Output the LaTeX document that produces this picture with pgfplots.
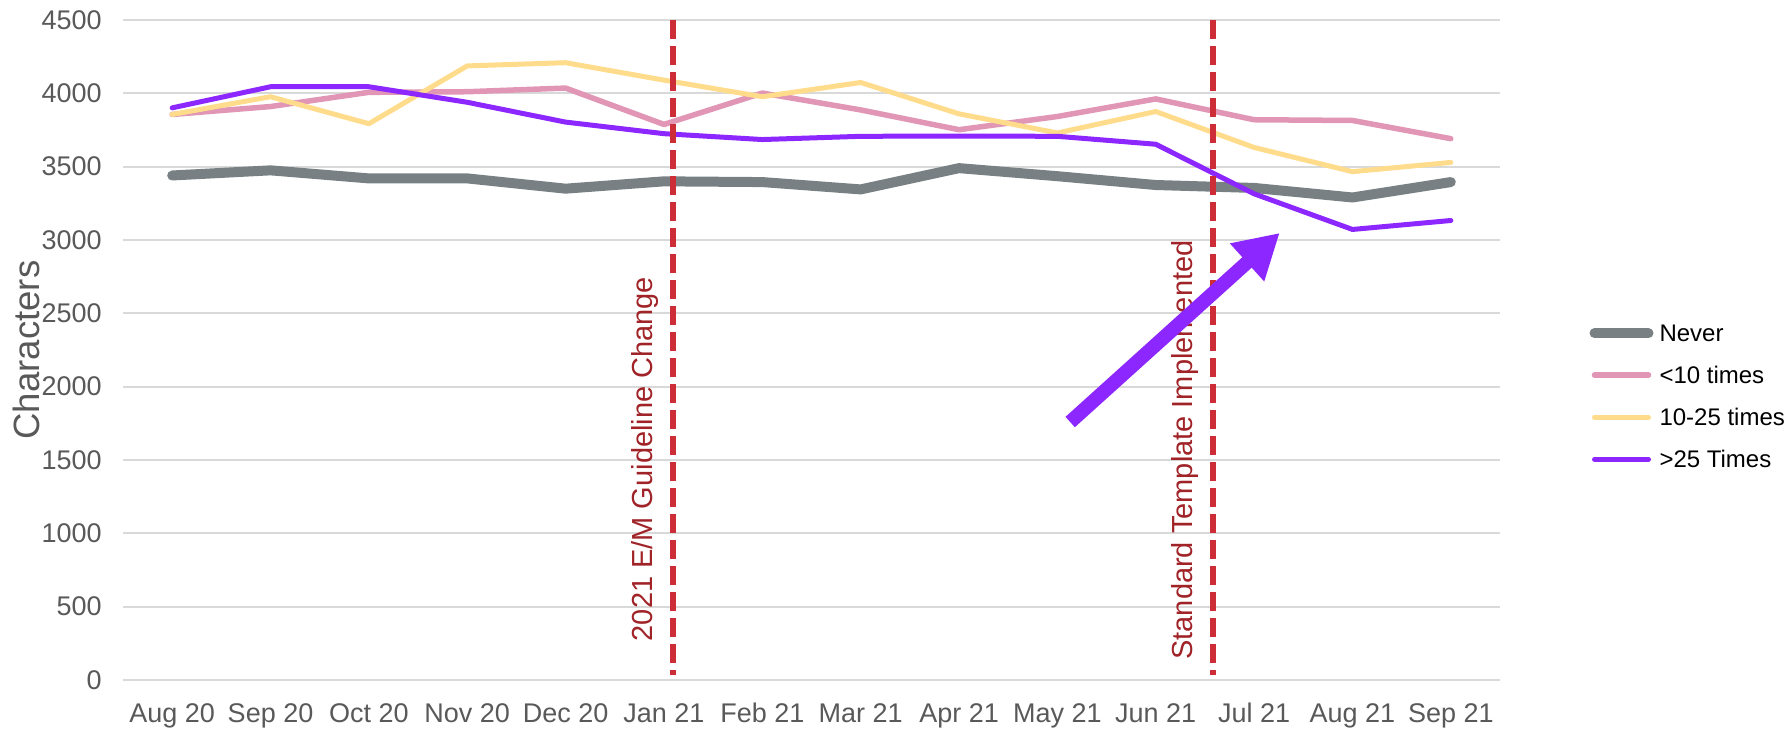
\documentclass[border=0pt]{standalone}
\usepackage{fontspec}
\setmainfont{Liberation Sans}
\usepackage{pgfplots}
\pgfplotsset{compat=1.18}
\usetikzlibrary{arrows.meta}
\definecolor{cgray}{RGB}{120,128,131}
\definecolor{cpink}{RGB}{224,150,180}
\definecolor{cyellow}{RGB}{255,220,140}
\definecolor{cpurple}{RGB}{140,40,255}
\definecolor{cred}{RGB}{205,45,55}
\definecolor{ctext}{RGB}{160,35,40}
\definecolor{ctick}{RGB}{89,89,89}
\definecolor{cgrid}{RGB}{217,217,217}
\begin{document}
\begin{tikzpicture}
\begin{axis}[
  at={(61.5pt,25pt)}, anchor=south west,
  scale only axis, width=688.5pt, height=330pt,
  xmin=-0.5, xmax=13.5, ymin=0, ymax=4500,
  clip=false,
  axis line style={draw=none},
  ytick={0,500,...,4500},
  xtick={0,...,13},
  xticklabels={Aug 20,Sep 20,Oct 20,Nov 20,Dec 20,Jan 21,Feb 21,Mar 21,Apr 21,May 21,Jun 21,Jul 21,Aug 21,Sep 21},
  ymajorgrids, grid style={cgrid, line width=1pt},
  major tick length=0pt,
  tick label style={font=\fontsize{13.5}{16}\selectfont, text=ctick},
  /pgf/number format/assume math mode=true,
  /pgf/number format/1000 sep={},
  yticklabel style={inner sep=0pt, xshift=-10.5pt},
  xticklabel style={inner sep=0pt, yshift=-11.5pt},
  ylabel={Characters},
  ylabel style={at={(axis description cs:-0.07,0.5)}, anchor=center, font=\fontsize{18.3}{22}\selectfont, text=ctick},
  legend style={at={(axis description cs:1.065,0.43)}, anchor=west, draw=none, fill=none,
    font=\fontsize{12}{14}\selectfont, text=black, inner sep=0pt, outer sep=0pt,
    row sep=12.4pt, column sep=3pt,
    nodes={inner sep=0pt, text height=8.6pt, text depth=0pt}},
  legend cell align=left,
  legend image code/.code={\draw[#1] (0pt,0pt) -- (27pt,0pt);},
]
\addplot[cgray, line width=5pt, line cap=round, line join=round] coordinates {
 (0,3440) (1,3475) (2,3420) (3,3420) (4,3350) (5,3400) (6,3395) (7,3345) (8,3490) (9,3435) (10,3375) (11,3355) (12,3290) (13,3395)};
\addlegendentry{Never}
\addplot[cpink, line width=2.75pt, line cap=round, line join=round] coordinates {
 (0,3856) (1,3910) (2,4007) (3,4011) (4,4036) (5,3788) (6,4002) (7,3887) (8,3752) (9,3842) (10,3962) (11,3820) (12,3815) (13,3691)};
\addlegendentry{<10 times}
\addplot[cyellow, line width=2.5pt, line cap=round, line join=round] coordinates {
 (0,3856) (1,3977) (2,3793) (3,4187) (4,4209) (5,4090) (6,3977) (7,4074) (8,3860) (9,3730) (10,3876) (11,3631) (12,3466) (13,3529)};
\addlegendentry{10-25 times}
\addplot[cpurple, line width=2.5pt, line cap=round, line join=round] coordinates {
 (0,3901) (1,4045) (2,4045) (3,3939) (4,3804) (5,3725) (6,3685) (7,3707) (8,3709) (9,3707) (10,3653) (11,3315) (12,3072) (13,3133)};
\addlegendentry{>25 Times}
\draw[cred, line width=2.75pt, dash pattern=on 9.5pt off 3.5pt] (axis cs:5.09,4500) -- (axis cs:5.09,35);
\draw[cred, line width=2.75pt, dash pattern=on 9.5pt off 3.5pt] (axis cs:10.58,4500) -- (axis cs:10.58,35);
\node[rotate=90, anchor=base, text=ctext, font=\fontsize{14.5}{17}\selectfont, inner sep=0pt] at (axis cs:4.887,1507) {2021 E/M Guideline Change};
\node[rotate=90, anchor=base, text=ctext, font=\fontsize{14.5}{17}\selectfont, inner sep=0pt] at (axis cs:10.377,1568) {Standard Template Implemented};
\draw[cpurple, line width=7pt, -{Triangle[width=24pt,length=22pt]}] (axis cs:9.13,1759) -- (axis cs:11.26,3048);
\end{axis}
\pgfresetboundingbox
\path[use as bounding box] (0,0) rectangle (892pt,365pt);
\end{tikzpicture}
\end{document}
